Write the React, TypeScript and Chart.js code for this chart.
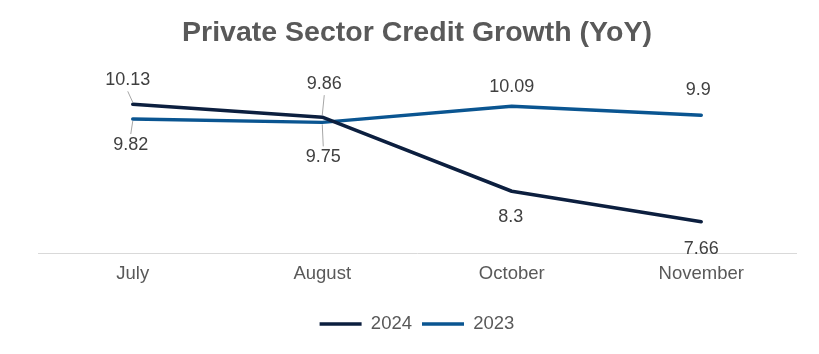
import React, { useEffect, useRef } from "react";
import { Chart, registerables } from "chart.js";

Chart.register(...registerables);

const categories = ["July", "August", "October", "November"];
const series2024 = [10.13, 9.86, 8.3, 7.66];
const series2023 = [9.82, 9.75, 10.09, 9.9];
const seriesNames = ["2024", "2023"];

// label placement per dataset/point: [dx, dy, leader]
const labelPlacement: [number, number, boolean][][] = [
  [[-5, -24, true], [2, -33, true], [-1, 26, false], [0, 27, false]],
  [[-2, 26, true], [1, 35, true], [0, -19, false], [-3, -25, false]],
];

const FONT = "'Liberation Sans', Arial, sans-serif";

const dataLabelPlugin = {
  id: "dataLabels",
  afterDatasetsDraw(chart: any) {
    const ctx = chart.ctx;
    ctx.save();
    ctx.font = `18px ${FONT}`;
    ctx.fillStyle = "#404040";
    ctx.textAlign = "center";
    ctx.textBaseline = "middle";
    chart.data.datasets.forEach((ds: any, di: number) => {
      const meta = chart.getDatasetMeta(di);
      meta.data.forEach((pt: any, i: number) => {
        const [dx, dy, leader] = labelPlacement[di][i];
        const lx = pt.x + dx;
        const ly = pt.y + dy;
        ctx.fillText(String(ds.data[i]), lx, ly);
        if (leader) {
          ctx.beginPath();
          ctx.strokeStyle = "#a6a6a6";
          ctx.lineWidth = 1;
          const sy = dy < 0 ? ly + 11 : ly - 11;
          const ey = dy < 0 ? pt.y - 2 : pt.y + 2;
          ctx.moveTo(lx, sy);
          ctx.lineTo(pt.x, ey);
          ctx.stroke();
        }
      });
    });
    ctx.restore();
  },
};

export default function App() {
  const ref = useRef<HTMLCanvasElement>(null);
  useEffect(() => {
    if (!ref.current) return;
    const chart = new Chart(ref.current, {
      type: "line",
      data: {
        labels: categories,
        datasets: [
          {
            label: seriesNames[0],
            data: series2024,
            borderColor: "#0c1f3f",
            backgroundColor: "#0c1f3f",
            borderWidth: 3.5,
            pointRadius: 0,
            borderCapStyle: "round",
            borderJoinStyle: "round",
          },
          {
            label: seriesNames[1],
            data: series2023,
            borderColor: "#0a5591",
            backgroundColor: "#0a5591",
            borderWidth: 3.5,
            pointRadius: 0,
            borderCapStyle: "round",
            borderJoinStyle: "round",
          },
        ],
      },
      options: {
        animation: false,
        responsive: false,
        layout: { padding: { left: 38, right: 23, top: 0, bottom: 10.75 } },
        plugins: {
          title: {
            display: true,
            text: "Private Sector Credit Growth (YoY)",
            color: "#595959",
            font: { family: FONT, size: 28.5, weight: "bold" },
            padding: { top: 15.9, bottom: 12.9 },
          },
          legend: {
            position: "bottom",
            labels: {
              usePointStyle: true,
              pointStyle: "line",
              pointStyleWidth: 42,
              color: "#595959",
              font: { family: FONT, size: 18.5 },
              padding: 10,
            },
          },
          tooltip: { enabled: false },
        },
        scales: {
          x: {
            offset: true,
            grid: { display: true, drawOnChartArea: false, drawTicks: false },
            border: { display: true, color: "#d9d9d9", width: 1 },
            ticks: {
              color: "#595959",
              font: { family: FONT, size: 18.5 },
              padding: 10,
            },
            afterFit: (scale: any) => {
              scale.height = 51.75;
            },
          },
          y: {
            display: false,
            min: 7,
            max: 11,
          },
        },
      },
      plugins: [dataLabelPlugin],
    });
    return () => chart.destroy();
  }, []);
  return (
    <div style={{ position: "fixed", left: 0, top: 0, width: 819, height: 354, background: "#fff" }}>
      <canvas ref={ref} width={819} height={354} />
    </div>
  );
}
